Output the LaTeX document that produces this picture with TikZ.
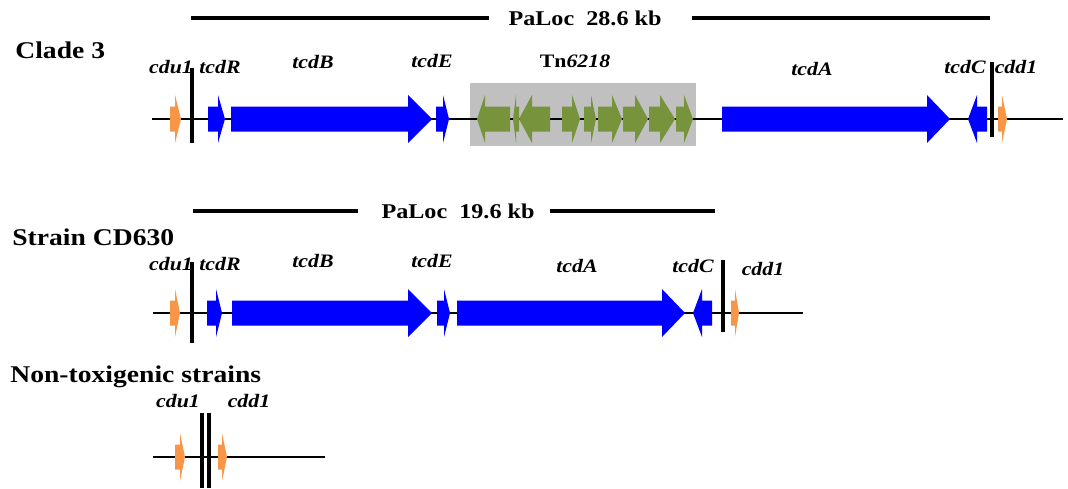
\documentclass[tikz,border=0pt]{standalone}
\usepackage{fontspec}
\setmainfont{Liberation Serif}[FakeStretch=1.15]
\usepackage{tikz}
\tikzset{>=latex}
\definecolor{genorange}{HTML}{F79646}
\definecolor{tngreen}{HTML}{77933C}
\definecolor{tngray}{HTML}{C0C0C0}
\tikzset{
	backbone/.style={line width=1pt},
	border/.style={line width=1.6pt},
	locbar/.style={line width=1.6pt},
	genelabel/.style={anchor=base, inner sep=0pt, font=\fontsize{9.5}{10}\selectfont\bfseries\itshape},
	rowlabel/.style={anchor=base west, inner sep=0pt, font=\fontsize{12}{13}\selectfont\bfseries},
	loclabel/.style={inner sep=0pt, font=\fontsize{10.5}{12}\selectfont\bfseries},
}
% gene arrow: colour, start, head base, tip, centre line
\newcommand{\gene}[5]{%
	\fill[#1] (#2,#5-12.5) -- (#3,#5-12.5) -- (#3,#5-24) -- (#4,#5)
		-- (#3,#5+24) -- (#3,#5+12.5) -- (#2,#5+12.5) -- cycle;}

\begin{document}
\begin{tikzpicture}[x=0.5pt, y=-0.5pt]
	\useasboundingbox (0,0) rectangle (1068,488);
	% Clade 3
	\node[rowlabel] (clade) at (15,58) {Clade 3};
	\node[loclabel] (loca) at (585,18) {PaLoc\ \ 28.6 kb};
	\draw[locbar](191,18)--(489,18);
	\draw[locbar](692,18)--(990,18);
	\fill[tngray](470,83) rectangle (696,146);
	\draw[backbone](152,119)--(1063,119);
	\draw[border](192,68)--(192,143);
	\draw[border](992,62)--(992,137);
	\gene{genorange}{170}{175}{181}{119}
	\gene{blue}{208}{218}{225}{119}
	\gene{blue}{231}{408}{432}{119}
	\gene{blue}{436}{443}{449}{119}
	\foreach \s/\h/\t in {510/485/477, 519/516/513, 550/532/519, 562/572/580,
		584/591/596, 598/612/622, 623/635/648, 649/660/675, 676/684/693}
		\gene{tngreen}{\s}{\h}{\t}{119};
	\gene{blue}{722}{927}{950}{119}
	\gene{blue}{987}{977}{968}{119}
	\gene{genorange}{998}{1002}{1007}{119}
	\node[genelabel] (acdu) at (171,73) {cdu1};
	\node[genelabel] (atcdR) at (220,73) {tcdR};
	\node[genelabel] (atcdB) at (313,68) {tcdB};
	\node[genelabel] (atcdE) at (432,67) {tcdE};
	\node[genelabel, font=\fontsize{9.5}{10}\selectfont\bfseries] (atn) at (575,67) {Tn\textit{6218}};
	\node[genelabel] (atcdA) at (812,75) {tcdA};
	\node[genelabel] (atcdC) at (965,73) {tcdC};
	\node[genelabel] (acdd) at (1016,73) {cdd1};
	% Strain CD630
	\node[rowlabel] (strain) at (12,245) {Strain CD630};
	\node[loclabel] (locb) at (458,211) {PaLoc\ \ 19.6 kb};
	\draw[locbar](193,211)--(358,211);
	\draw[locbar](550,211)--(715,211);
	\draw[backbone](153,313)--(803,313);
	\draw[border](192,262)--(192,343);
	\draw[border](723,260)--(723,332);
	\gene{genorange}{170}{175}{180}{313}
	\gene{blue}{207}{216}{222}{313}
	\gene{blue}{232}{408}{432}{313}
	\gene{blue}{437}{444}{450}{313}
	\gene{blue}{457}{662}{685}{313}
	\gene{blue}{712}{702}{693}{313}
	\gene{genorange}{731}{735}{739}{313}
	\node[genelabel] (bcdu) at (171,270) {cdu1};
	\node[genelabel] (btcdR) at (220,270) {tcdR};
	\node[genelabel] (btcdB) at (313,267) {tcdB};
	\node[genelabel] (btcdE) at (432,267) {tcdE};
	\node[genelabel] (btcdA) at (577,272) {tcdA};
	\node[genelabel] (btcdC) at (693,272) {tcdC};
	\node[genelabel] (bcdd) at (763,275) {cdd1};
	% Non-toxigenic strains
	\node[rowlabel] (nontox) at (10,382) {Non-toxigenic strains};
	\draw[backbone](153,457)--(325,457);
	\draw[border](202,413)--(202,488);
	\draw[border](209,413)--(209,488);
	\gene{genorange}{175}{180}{185}{457}
	\gene{genorange}{218}{222}{227}{457}
	\node[genelabel] (ccdu) at (178,407) {cdu1};
	\node[genelabel] (ccdd) at (249,407) {cdd1};
\end{tikzpicture}
\end{document}
